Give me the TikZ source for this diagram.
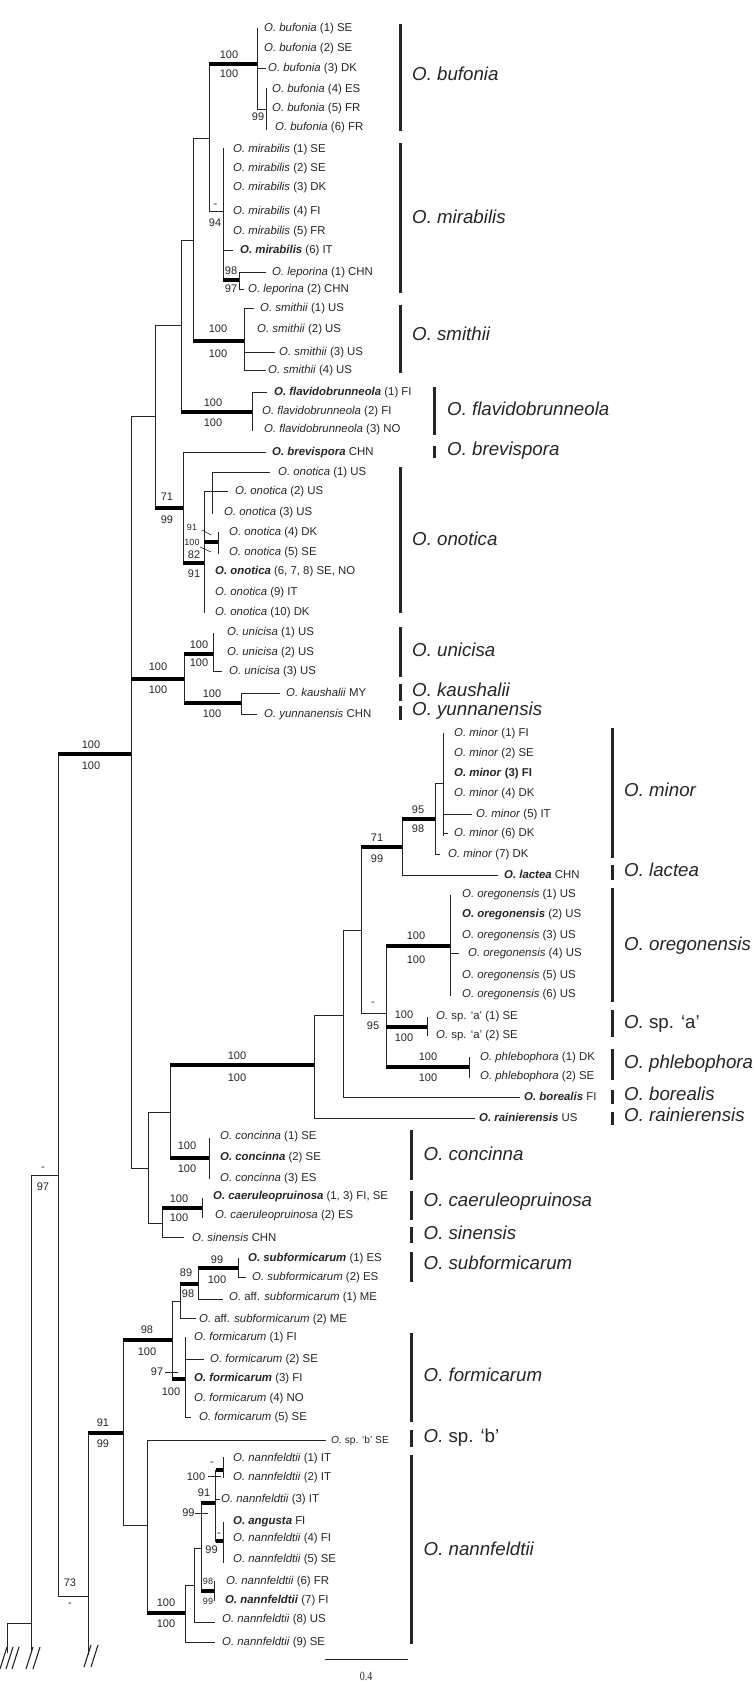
\documentclass[tikz,border=0pt]{standalone}
\usepackage{fontspec}
\setmainfont{Liberation Sans}
\newfontfamily\scalefont{Liberation Serif}
\newcommand\tipfont{\fontsize{11.4}{13}\selectfont}
\newcommand\smtipfont{\fontsize{10.2}{12}\selectfont}
\newcommand\cladefont{\fontsize{18.7}{22}\selectfont\itshape}
\newcommand\bsfont{\fontsize{11}{13}\selectfont}
\newcommand\smbsfont{\fontsize{9}{10}\selectfont}
\newcounter{tipn}\newcounter{bsn}\newcounter{cln}
\tikzset{
  br/.style={line width=1pt, draw=black!85, line cap=rect},
  leader/.style={line width=0.6pt, draw=black!85},
  sbar/.style={line width=4.5pt, draw=black},
  cbar/.style={line width=3pt, draw=black!85},
  tiplab/.style={anchor=west, inner sep=0pt, text height=0.72em, text depth=0pt, font=\tipfont, text=black!85},
  cladelab/.style={anchor=west, inner sep=0pt, text height=0.72em, text depth=0pt, font=\cladefont, text=black!85},
  bslab/.style={anchor=center, inner sep=0pt, text height=0.72em, text depth=0pt, font=\bsfont, text=black!85},
  sbslab/.style={bslab, font=\smbsfont},
  slash/.style={line width=1.1pt, draw=black!85}
}
\newcommand\Vb[3]{\draw[br] (#1,#2) -- (#1,#3);}
\newcommand\Hb[3]{\draw[br] (#2,#1) -- (#3,#1);}
\newcommand\Sb[3]{\draw[sbar] (#2,#1) -- (#3,#1);}
\newcommand\Tip[3]{\stepcounter{tipn}\node[tiplab] (tip\arabic{tipn}) at (#1,#2) {#3};}
\newcommand\Bs[3]{\stepcounter{bsn}\node[bslab] (bs\arabic{bsn}) at (#1,#2) {#3};}
\newcommand\Bss[3]{\stepcounter{bsn}\node[sbslab] (bs\arabic{bsn}) at (#1,#2) {#3};}
\newcommand\Cl[6]{\stepcounter{cln}\draw[cbar] (#1,#2) -- (#1,#3); \node[cladelab] (clade\arabic{cln}) at (#4,#5) {#6};}
\begin{document}
\begin{tikzpicture}[x=1pt,y=-1pt]
\useasboundingbox (0,0) rectangle (754,1682);
\fill[white] (0,0) rectangle (754,1682);

% ---------- backbone ----------
\Vb{7}{1623}{1652}
\Hb{1623}{7}{31}
\Vb{31}{1175}{1652}
\Hb{1175}{31}{58}
\Vb{58}{754}{1596}
\Sb{754}{58}{131}
\Vb{131}{416}{1168}

% ---------- upper group ----------
\Hb{416}{131}{155}
\Vb{155}{325}{508}
\Hb{325}{155}{181}
\Vb{181}{240}{412}
\Hb{240}{181}{193}
\Vb{193}{138}{341}
\Hb{138}{193}{209}
\Vb{209}{64}{211}
\Sb{64}{209}{257}
\Vb{257}{28}{109}
\Hb{68}{257}{265}
\Hb{109}{257}{266}
\Vb{266}{88}{129}
\Hb{211}{209}{223}
\Vb{223}{148}{280}
\Hb{250}{223}{232}
\Sb{280}{223}{239}
\Vb{239}{272}{289}
\Hb{272}{239}{265}
\Hb{289}{239}{243}
\Sb{341}{193}{244}
\Vb{244}{308}{370}
\Hb{308}{244}{253}
\Hb{352}{244}{274}
\Hb{370}{244}{265}
\Sb{412}{181}{252}
\Vb{252}{392}{430}
\Hb{392}{252}{266}
\Sb{508}{155}{183}
\Vb{183}{452}{563}
\Hb{452}{183}{265}
\Sb{563}{183}{204}
\Vb{204}{491}{612}
\Hb{491}{204}{227}
\Vb{212}{472}{513}
\Hb{472}{212}{269}
\Sb{542}{204}{218.5}
\Vb{218.5}{532}{553}
\draw[leader] (202,530) -- (211,535);
\draw[leader] (200,547) -- (211,552);

% unicisa / kaushalii / yunnanensis
\Sb{679}{131}{184}
\Vb{184}{654}{703}
\Sb{654}{184}{213.5}
\Vb{213.5}{633}{671}
\Hb{671}{213.5}{221}
\Sb{703}{184}{241}
\Vb{241}{693}{714}
\Hb{693}{241}{279}
\Hb{714}{241}{256}

% ---------- middle group ----------
\Hb{1168}{131}{148}
\Vb{148}{1112}{1223}
\Hb{1112}{148}{170}
\Vb{170}{1065}{1158}
\Sb{1065}{170}{314}
\Vb{314}{1015}{1118}
\Hb{1015}{314}{343}
\Hb{1118}{314}{474}
\Vb{343}{930}{1097}
\Hb{930}{343}{361}
\Hb{1097}{343}{519}
\Vb{361}{847}{1013}
\Sb{847}{361}{402}
\Vb{402}{819}{875}
\Hb{875}{402}{497}
\Sb{819}{402}{435}
\Vb{435}{783}{854}
\Hb{854}{435}{439}
\Hb{783}{435}{443.5}
\Vb{443.5}{733}{835}
\Hb{814}{443.5}{471.6}
\Hb{833}{443.5}{447}
\Hb{1013}{361}{386}
\Vb{386}{946}{1067}
\Sb{946}{386}{450.5}
\Vb{450.5}{895}{995}
\Hb{953}{450.5}{458}
\Sb{1027}{386}{427}
\Vb{427}{1017}{1035}
\Sb{1067}{386}{469}
\Vb{469}{1057}{1077}
\Sb{1158}{170}{209}
\Vb{209}{1138}{1178}
\Hb{1223}{148}{162}
\Vb{162}{1208}{1237}
\Sb{1208}{162}{202}
\Vb{202}{1198}{1217}
\Hb{1237}{162}{183}

% ---------- lower group ----------
\Hb{1596}{58}{88}
\Vb{88}{1433}{1654}
\Sb{1433}{88}{123}
\Vb{123}{1340}{1525}
\Sb{1340}{123}{172}
\Vb{172}{1301}{1379}
\Hb{1301}{172}{180}
\Vb{180}{1284}{1318}
\Hb{1318}{180}{195}
\Sb{1284}{180}{198}
\Vb{198}{1268}{1299}
\Hb{1299}{198}{222}
\Sb{1268}{198}{238.6}
\Vb{238.6}{1258}{1277}
\Hb{1277}{238.6}{245.5}
\Sb{1379}{172}{185.5}
\Vb{185.5}{1337}{1417}
\Hb{1359}{185.5}{203}
\Hb{1417}{185.5}{190.5}
\draw[leader] (165,1372) -- (178,1372);
\Hb{1525}{123}{147}
\Vb{147}{1440}{1613}
\Hb{1440}{147}{325}
\Sb{1613}{147}{185}
\Vb{185}{1585}{1642}
\Hb{1585}{185}{194}
\Hb{1642}{185}{214}
\Vb{194}{1548}{1622}
\Hb{1548}{194}{201}
\Hb{1622}{194}{214}
\Vb{201}{1503}{1591}
\Sb{1591}{201}{214}
\Vb{214}{1581}{1600}
\Sb{1503}{201}{215.5}
\Vb{215.5}{1470}{1541}
\Sb{1470}{215.5}{223}
\Vb{223}{1457}{1477}
\Hb{1499}{215.5}{219}
\Sb{1541}{215.5}{223}
\Vb{223}{1522}{1562}
\draw[leader] (208,1476) -- (221,1476);
\draw[leader] (195,1513) -- (208,1513);

% break marks
\foreach \sx in {0,6,12} {\draw[slash] (\sx,1669) -- (\sx+7,1647);}
\foreach \sx in {26,33} {\draw[slash] (\sx,1669) -- (\sx+7,1647);}
\foreach \sx in {84,91} {\draw[slash] (\sx,1667) -- (\sx+7,1645);}

% scale bar
\draw[br,line cap=butt] (324.5,1659) -- (407.7,1659);
\node[inner sep=0pt, font=\scalefont\fontsize{12.5}{14}\selectfont, xscale=0.8, text=black!85] (scalelab) at (366,1676) {0.4};

% ---------- support values ----------
\Bs{229}{55}{100} \Bs{229}{74}{100}
\Bs{258}{117}{99}
\Bs{215.5}{204}{-} \Bs{215}{223}{94}
\Bs{231}{271}{98} \Bs{231}{289}{97}
\Bs{218}{329}{100} \Bs{218}{354}{100}
\Bs{213}{403}{100} \Bs{213}{423}{100}
\Bs{167}{497}{71} \Bs{167}{520}{99}
\Bss{192}{527}{91} \Bss{192}{542}{100}
\Bs{194}{555}{82} \Bs{194}{574}{91}
\Bs{199}{645}{100} \Bs{199}{663}{100}
\Bs{158}{667}{100} \Bs{158}{690}{100}
\Bs{212}{694}{100} \Bs{212}{714}{100}
\Bs{91}{745}{100} \Bs{91}{766}{100}
\Bs{418}{810}{95} \Bs{418}{829}{98}
\Bs{377}{838}{71} \Bs{377}{859}{99}
\Bs{416}{936}{100} \Bs{416}{960}{100}
\Bs{373}{1002}{-} \Bs{373}{1026}{95}
\Bs{404}{1015}{100} \Bs{404}{1038}{100}
\Bs{428}{1057}{100} \Bs{428}{1078}{100}
\Bs{237}{1056}{100} \Bs{237}{1078}{100}
\Bs{187}{1146}{100} \Bs{187}{1169}{100}
\Bs{179}{1199}{100} \Bs{179}{1218}{100}
\Bs{43}{1167}{-} \Bs{43}{1187}{97}
\Bs{217}{1260}{99} \Bs{217}{1280}{100}
\Bs{186}{1273}{89} \Bs{188}{1294}{98}
\Bs{147}{1330}{98} \Bs{147}{1352}{100}
\Bs{157}{1372}{97} \Bs{171}{1392}{100}
\Bs{103}{1423}{91} \Bs{103}{1444}{99}
\Bs{70}{1583}{73} \Bs{70}{1603}{-}
\Bs{166}{1603}{100} \Bs{166}{1624}{100}
\Bs{212}{1462}{-} \Bs{196}{1477}{100}
\Bs{204}{1493}{91} \Bs{188.5}{1513}{99}
\Bs{219}{1533}{-} \Bs{211.5}{1550}{99}
\Bss{208}{1581}{98} \Bss{208}{1601}{99}

% ---------- tip labels ----------
\Tip{264}{28}{\textit{O. bufonia} (1) SE}
\Tip{264}{48}{\textit{O. bufonia} (2) SE}
\Tip{268}{68}{\textit{O. bufonia} (3) DK}
\Tip{272}{89}{\textit{O. bufonia} (4) ES}
\Tip{272}{108}{\textit{O. bufonia} (5) FR}
\Tip{275}{127}{\textit{O. bufonia} (6) FR}
\Tip{233}{149}{\textit{O. mirabilis} (1) SE}
\Tip{233}{168}{\textit{O. mirabilis} (2) SE}
\Tip{233}{187}{\textit{O. mirabilis} (3) DK}
\Tip{233}{211}{\textit{O. mirabilis} (4) FI}
\Tip{233}{231}{\textit{O. mirabilis} (5) FR}
\Tip{240}{250}{\textbf{\textit{O. mirabilis}} (6) IT}
\Tip{272}{272}{\textit{O. leporina} (1) CHN}
\Tip{248}{289}{\textit{O. leporina} (2) CHN}
\Tip{260}{308}{\textit{O. smithii} (1) US}
\Tip{257}{329}{\textit{O. smithii} (2) US}
\Tip{279}{352}{\textit{O. smithii} (3) US}
\Tip{268}{370}{\textit{O. smithii} (4) US}
\Tip{274}{392}{\textbf{\textit{O. flavidobrunneola}} (1) FI}
\Tip{262}{411}{\textit{O. flavidobrunneola} (2) FI}
\Tip{264}{429}{\textit{O. flavidobrunneola} (3) NO}
\Tip{272}{452}{\textbf{\textit{O. brevispora}} CHN}
\Tip{278}{472}{\textit{O. onotica} (1) US}
\Tip{235}{491}{\textit{O. onotica} (2) US}
\Tip{224}{512}{\textit{O. onotica} (3) US}
\Tip{229}{532}{\textit{O. onotica} (4) DK}
\Tip{229}{552}{\textit{O. onotica} (5) SE}
\Tip{215}{571}{\textbf{\textit{O. onotica}} (6, 7, 8) SE, NO}
\Tip{215}{592}{\textit{O. onotica} (9) IT}
\Tip{215}{612}{\textit{O. onotica} (10) DK}
\Tip{227}{632}{\textit{O. unicisa} (1) US}
\Tip{227}{652}{\textit{O. unicisa} (2) US}
\Tip{229}{671}{\textit{O. unicisa} (3) US}
\Tip{286}{693}{\textit{O. kaushalii} MY}
\Tip{264}{714}{\textit{O. yunnanensis} CHN}
\Tip{454}{733}{\textit{O. minor} (1) FI}
\Tip{454}{753}{\textit{O. minor} (2) SE}
\Tip{454}{773}{\textbf{\textit{O. minor} (3) FI}}
\Tip{454}{793}{\textit{O. minor} (4) DK}
\Tip{476}{814}{\textit{O. minor} (5) IT}
\Tip{454}{833}{\textit{O. minor} (6) DK}
\Tip{448}{854}{\textit{O. minor} (7) DK}
\Tip{504}{875}{\textbf{\textit{O. lactea}} CHN}
\Tip{462}{894}{\textit{O. oregonensis} (1) US}
\Tip{462}{914}{\textbf{\textit{O. oregonensis}} (2) US}
\Tip{462}{935}{\textit{O. oregonensis} (3) US}
\Tip{468}{953}{\textit{O. oregonensis} (4) US}
\Tip{462}{975}{\textit{O. oregonensis} (5) US}
\Tip{462}{994}{\textit{O. oregonensis} (6) US}
\Tip{436}{1016}{\textit{O.} sp. ‘a’ (1) SE}
\Tip{436}{1035}{\textit{O.} sp. ‘a’ (2) SE}
\Tip{480}{1057}{\textit{O. phlebophora} (1) DK}
\Tip{480}{1076}{\textit{O. phlebophora} (2) SE}
\Tip{524}{1097}{\textbf{\textit{O. borealis}} FI}
\Tip{479}{1118}{\textbf{\textit{O. rainierensis}} US}
\Tip{220}{1136}{\textit{O. concinna} (1) SE}
\Tip{220}{1157}{\textbf{\textit{O. concinna}} (2) SE}
\Tip{220}{1178}{\textit{O. concinna} (3) ES}
\Tip{213}{1196}{\textbf{\textit{O. caeruleopruinosa}} (1, 3) FI, SE}
\Tip{215}{1215}{\textit{O. caeruleopruinosa} (2) ES}
\Tip{192}{1238}{\textit{O. sinensis} CHN}
\Tip{248}{1258}{\textbf{\textit{O. subformicarum}} (1) ES}
\Tip{252}{1277}{\textit{O. subformicarum} (2) ES}
\Tip{229}{1297}{\textit{O.} aff. \textit{subformicarum} (1) ME}
\Tip{199}{1319}{\textit{O.} aff. \textit{subformicarum} (2) ME}
\Tip{194}{1337}{\textit{O. formicarum} (1) FI}
\Tip{210}{1359}{\textit{O. formicarum} (2) SE}
\Tip{194}{1378}{\textbf{\textit{O. formicarum}} (3) FI}
\Tip{194}{1398}{\textit{O. formicarum} (4) NO}
\Tip{199}{1417}{\textit{O. formicarum} (5) SE}
\Tip{331}{1440}{\smtipfont\textit{O.} sp. ‘b’ SE}
\Tip{233}{1458}{\textit{O. nannfeldtii} (1) IT}
\Tip{233}{1477}{\textit{O. nannfeldtii} (2) IT}
\Tip{221}{1499}{\textit{O. nannfeldtii} (3) IT}
\Tip{233}{1521}{\textbf{\textit{O. angusta}} FI}
\Tip{233}{1538}{\textit{O. nannfeldtii} (4) FI}
\Tip{233}{1559}{\textit{O. nannfeldtii} (5) SE}
\Tip{226}{1581}{\textit{O. nannfeldtii} (6) FR}
\Tip{225}{1600}{\textbf{\textit{O. nannfeldtii}} (7) FI}
\Tip{222}{1619}{\textit{O. nannfeldtii} (8) US}
\Tip{222}{1642}{\textit{O. nannfeldtii} (9) SE}

% ---------- clade bars and names ----------
\Cl{400}{24}{131}{412}{77}{O. bufonia}
\Cl{400}{143}{293}{412}{220}{O. mirabilis}
\Cl{400}{305}{373}{412}{337}{O. smithii}
\Cl{434}{387}{435}{447}{412}{O. flavidobrunneola}
\Cl{434}{446}{458}{447}{452}{O. brevispora}
\Cl{400}{467}{613}{412}{542}{O. onotica}
\Cl{400}{627}{677}{412}{653}{O. unicisa}
\Cl{400}{684}{701}{412}{693}{O. kaushalii}
\Cl{400}{706}{720}{412}{712}{O. yunnanensis}
\Cl{612}{728}{858}{624}{793}{O. minor}
\Cl{612}{865}{880}{624}{873}{O. lactea}
\Cl{612}{888}{1002}{624}{947}{O. oregonensis}
\Cl{612}{1010}{1037}{624}{1025}{O. {\upshape sp. ‘a’}}
\Cl{612}{1049}{1080}{624}{1065}{O. phlebophora}
\Cl{612}{1090}{1104}{624}{1097}{O. borealis}
\Cl{612}{1112}{1125}{624}{1118}{O. rainierensis}
\Cl{411}{1130}{1180}{423.5}{1157}{O. concinna}
\Cl{411}{1191}{1220}{423.5}{1203}{O. caeruleopruinosa}
\Cl{411}{1227}{1243}{423.5}{1236}{O. sinensis}
\Cl{411}{1252}{1282}{423.5}{1266}{O. subformicarum}
\Cl{411}{1333}{1422}{423.5}{1378}{O. formicarum}
\Cl{411}{1430}{1447}{423.5}{1439}{O. {\upshape sp. ‘b’}}
\Cl{411}{1455}{1644}{423.5}{1552}{O. nannfeldtii}
\end{tikzpicture}
\end{document}
